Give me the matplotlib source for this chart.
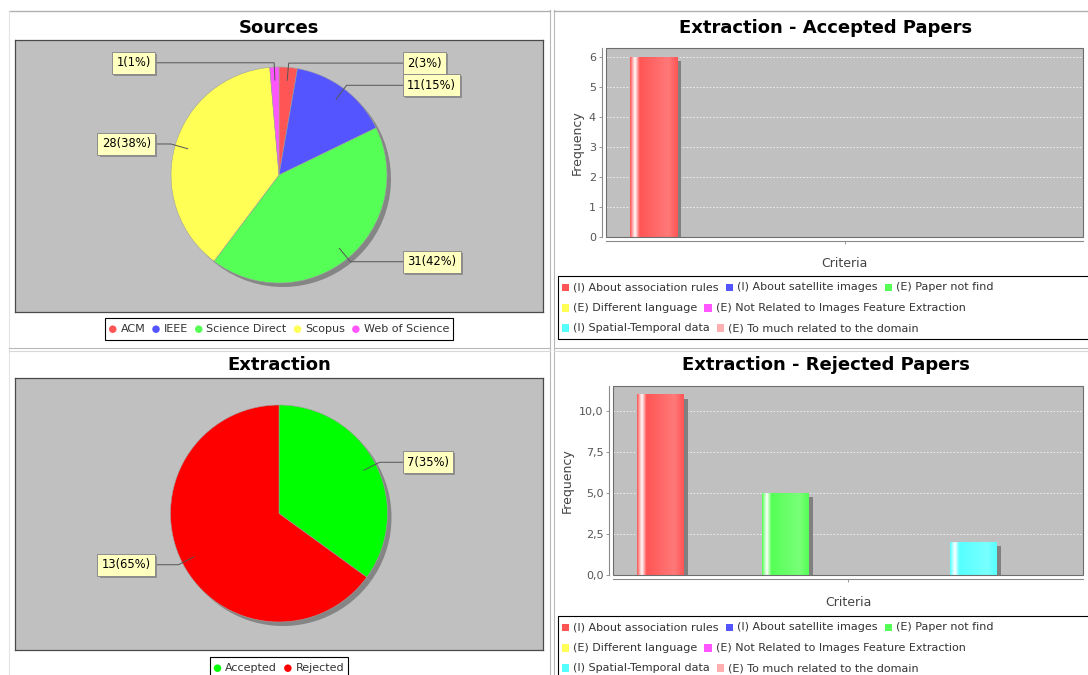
import numpy as np
import matplotlib
matplotlib.use('Agg')
from matplotlib import pyplot as plt
from matplotlib import colors as mcolors
from matplotlib import patheffects, transforms
from matplotlib.patches import Rectangle, Circle

W, H = 1088, 675

sources = ['ACM', 'IEEE', 'Science Direct', 'Scopus', 'Web of Science']
source_counts = [2, 11, 31, 28, 1]
source_colors = ['#FF5555', '#5555FF', '#55FF55', '#FFFF55', '#FF55FF']

status = ['Accepted', 'Rejected']
status_counts = [7, 13]
status_colors = ['#00FF00', '#FF0000']

criteria = ['(I) About association rules', '(I) About satellite images',
            '(E) Paper not find', '(E) Different language',
            '(E) Not Related to Images Feature Extraction',
            '(I) Spatial-Temporal data', '(E) To much related to the domain']
criteria_colors = ['#FF5555', '#5555FF', '#55FF55', '#FFFF55', '#FF55FF', '#55FFFF', '#FFAFAF']
accepted_freq = [6, 0, 0, 0, 0, 0, 0]
rejected_freq = [11, 0, 5, 0, 0, 2, 0]

plt.rcParams['font.family'] = ['DejaVu Sans']
fig = plt.figure(figsize=(W / 100, H / 100), dpi=100)
fig.patch.set_facecolor('white')

# full-figure layer in pixel units (y down) for titles, legends and frames
overlay = fig.add_axes([0, 0, 1, 1])
overlay.set_xlim(0, W)
overlay.set_ylim(H, 0)
overlay.axis('off')


def px_axes(x0, y0, x1, y1):
    return fig.add_axes([x0 / W, 1 - y1 / H, (x1 - x0) / W, (y1 - y0) / H])


# panel frames
for x in (549.5, 553.5):
    overlay.plot([x, x], [10, H], color='#b8b8b8', lw=0.8)
overlay.plot([9, 549.5], [10.5, 10.5], color='#b0b0b0', lw=1.0)
overlay.plot([553.5, W], [10.5, 10.5], color='#b0b0b0', lw=1.0)
overlay.plot([9, 9], [10.5, H], color='#e4e4e4', lw=0.8)
for y, c in ((347.5, '#b8b8b8'), (350.5, '#d8d8d8')):
    overlay.plot([9, 549.5], [y, y], color=c, lw=0.8)
    overlay.plot([553.5, W], [y, y], color=c, lw=0.8)


def flow_legend(labels, colors, shape, top, left=None, right=None, center=None,
                first=11.5, row_h=20.3, bottom=10.5):
    rend = fig.canvas.get_renderer()
    widths = []
    for lab in labels:
        t = overlay.text(0, 0, lab, fontsize=8)
        widths.append(t.get_window_extent(rend).width)
        t.remove()
    sym, gap, sep, pad = 7.5, 4, 7, 4
    items = [sym + gap + w for w in widths]
    if center is not None:
        total = sum(items) + sep * (len(items) - 1) + 2 * pad
        left, right = center - total / 2, center + total / 2
    rows = [[]]
    x = left + pad
    for k, iw in enumerate(items):
        if rows[-1] and x + iw > right - pad:
            rows.append([])
            x = left + pad
        rows[-1].append((k, x))
        x += iw + sep
    for r, row in enumerate(rows):
        y = top + first + r * row_h
        for k, x in row:
            if shape == 'circle':
                overlay.add_patch(Circle((x + sym / 2, y), sym / 2, color=colors[k], lw=0))
            else:
                overlay.add_patch(Rectangle((x, y - sym / 2), sym, sym, color=colors[k], lw=0))
            overlay.text(x + sym + gap, y, labels[k], fontsize=8, va='center', ha='left',
                         color='#333333')
    height = first + (len(rows) - 1) * row_h + bottom
    overlay.add_patch(Rectangle((left, top), right - left, height, fill=False,
                                ec='black', lw=0.8))


def pie_panel(box, title, title_y, labels, counts, colors, cx, cy, r, legend_top):
    x0, y0, x1, y1 = box
    ax = px_axes(x0, y0, x1, y1)
    ax.set_facecolor('#C0C0C0')
    total = sum(counts)
    cyd = H - cy
    ax.pie(counts, colors=colors, startangle=90, counterclock=False,
           center=(cx, cyd), radius=r, frame=True,
           wedgeprops=dict(edgecolor='#a0a0a0', linewidth=0.4),
           shadow={'ox': 2.88, 'oy': -2.88, 'facecolor': '#858585',
                   'edgecolor': 'none', 'alpha': 1.0})
    ax.set_xlim(x0, x1)
    ax.set_ylim(H - y1, H - y0)
    ax.set_aspect('auto')
    ax.set_xticks([])
    ax.set_yticks([])
    for sp in ax.spines.values():
        sp.set_color('#4a4a4a')
        sp.set_linewidth(0.9)

    # section labels with leader lines
    start = 0.0
    for v in counts:
        mid = (start + v / 2) / total * 2 * np.pi
        start += v
        dx, dy = np.sin(mid), np.cos(mid)
        anchor = (cx + 0.88 * r * dx, cyd + 0.88 * r * dy)
        elbow = (cx + 1.04 * r * dx, cyd + 1.04 * r * dy)
        if dx >= 0:
            lx, ha, tx = cx + 124, 'left', cx + 128
        else:
            lx, ha, tx = cx - 124, 'right', cx - 128
        ax.plot([anchor[0], elbow[0], lx], [anchor[1], elbow[1], elbow[1]],
                color='#555555', lw=0.7, zorder=3)
        t = ax.text(tx, elbow[1], f'{v}({round(100 * v / total)}%)', fontsize=8.3,
                    ha=ha, va='center', zorder=4,
                    bbox=dict(boxstyle='square,pad=0.38', fc='#FFFFC0', ec='#8c8c8c', lw=0.7))
        t.get_bbox_patch().set_path_effects([
            patheffects.SimplePatchShadow(offset=(1.5, -1.5), shadow_rgbFace='#8a8a8a', alpha=0.9),
            patheffects.Normal()])

    overlay.text((x0 + x1) / 2, title_y, title, fontsize=13, fontweight='bold',
                 ha='center', va='center')
    flow_legend(labels, colors, 'circle', legend_top, center=(x0 + x1) / 2,
                first=10.9, bottom=10.8)


def brighter(col):
    rgb = np.array(mcolors.to_rgb(col)) * 255
    return np.where(rgb > 0, np.minimum(np.floor(rgb / 0.7), 255), rgb) / 255


def bar_gradient(col, n=96):
    c0 = np.array(mcolors.to_rgb(col))
    stops = [0.0, 0.1, 0.2, 0.8, 1.0]
    cols = np.array([c0, np.ones(3), c0, brighter(col), c0])
    t = np.linspace(0, 1, n)
    grad = np.stack([np.interp(t, stops, cols[:, k]) for k in range(3)], axis=-1)
    return grad[np.newaxis, :, :]


def bar_panel(box, title, title_y, freq, step, decimals, legend_top):
    x0, y0, x1, y1 = box
    ax = px_axes(x0, y0, x1, y1)
    ax.set_facecolor('#C0C0C0')
    n = len(freq)
    w = 0.75
    shadow_tr = transforms.offset_copy(ax.transData, fig=fig, x=4, y=-4, units='dots')
    for i, (v, c) in enumerate(zip(freq, criteria_colors)):
        if v == 0:
            continue
        ax.add_patch(Rectangle((i - w / 2, 0), w, v, facecolor='#808080', edgecolor='none',
                               transform=shadow_tr, zorder=1.5))
        ax.imshow(bar_gradient(c), extent=(i - w / 2, i + w / 2, 0, v), aspect='auto',
                  interpolation='bilinear', zorder=2)
    ax.set_xlim(-0.75, n - 0.25)
    top = max(freq) * 1.05
    ax.set_ylim(0, top)
    ticks = np.arange(0, top, step)
    ax.set_yticks(ticks)
    if decimals:
        ax.set_yticklabels([f'{t:.1f}'.replace('.', ',') for t in ticks])
    else:
        ax.set_yticklabels([f'{t:.0f}' for t in ticks])
    ax.set_xticks([(n - 1) / 2])
    ax.set_xticklabels([''])
    ax.tick_params(direction='out', length=2, width=0.6, color='#888888',
                   labelcolor='#555555', labelsize=8, pad=2)
    for side in ('top', 'right'):
        ax.spines[side].set_visible(False)
    for side in ('left', 'bottom'):
        ax.spines[side].set_position(('outward', 3))
        ax.spines[side].set_color('#8a8a8a')
        ax.spines[side].set_linewidth(0.8)
    ax.add_patch(Rectangle((0, 0), 1, 1, transform=ax.transAxes, fill=False,
                           ec='#6e6e6e', lw=0.8, zorder=5, clip_on=False))
    ax.set_axisbelow(True)
    ax.yaxis.grid(True, color='#f4f4f4', linestyle=(0, (2, 2)), linewidth=0.6)
    ax.set_ylabel('Frequency', fontsize=9, color='#444444', labelpad=4)
    ax.set_xlabel('Criteria', fontsize=9, color='#444444', va='top')
    ax.xaxis.set_label_coords(0.5, -20.5 / (y1 - y0))

    overlay.text(826, title_y, title, fontsize=13, fontweight='bold',
                 ha='center', va='center')
    flow_legend(criteria, criteria_colors, 'square', legend_top, left=557.5, right=1094)


pie_panel((15, 40, 543, 312), 'Sources', 28, sources, source_counts, source_colors,
          279, 175, 108, 318.3)
pie_panel((15, 377.7, 543, 650), 'Extraction', 365, status, status_counts, status_colors,
          279, 513.5, 108.5, 657.3)
bar_panel((605.7, 48.3, 1083.3, 236.7), 'Extraction - Accepted Papers', 28,
          accepted_freq, 1, False, 276)
bar_panel((613.3, 385.7, 1083.3, 575), 'Extraction - Rejected Papers', 365,
          rejected_freq, 2.5, True, 616)

fig.savefig('out.png', dpi=100)
